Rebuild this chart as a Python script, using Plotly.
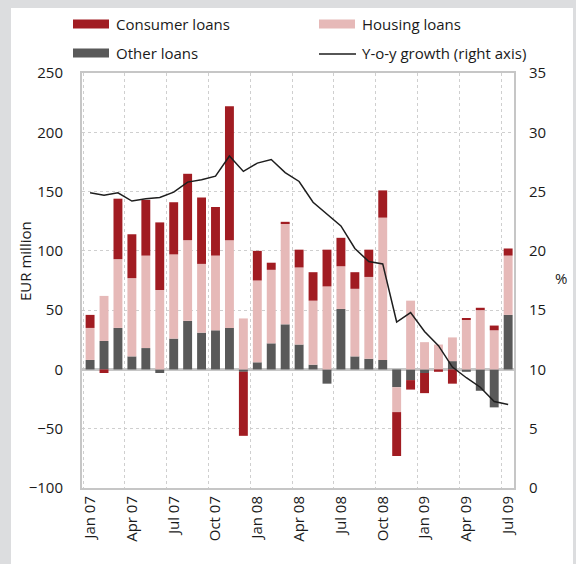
import plotly.graph_objects as go

# Monthly flows of new lending to households, EUR million
months = ["Jan 07", "Feb 07", "Mar 07", "Apr 07", "May 07", "Jun 07",
          "Jul 07", "Aug 07", "Sep 07", "Oct 07", "Nov 07", "Dec 07",
          "Jan 08", "Feb 08", "Mar 08", "Apr 08", "May 08", "Jun 08",
          "Jul 08", "Aug 08", "Sep 08", "Oct 08", "Nov 08", "Dec 08",
          "Jan 09", "Feb 09", "Mar 09", "Apr 09", "May 09", "Jun 09",
          "Jul 09"]

other_loans = [8, 24, 35, 11, 18, -3, 26, 41, 31, 33, 35, -2, 6, 22, 38, 21,
               4, -12, 51, 11, 9, 8, -15, -9, -3, 0, 7, -2, -18, -32, 46]
housing_loans = [27, 38, 58, 66, 78, 67, 71, 68, 58, 63, 74, 43, 69, 62, 85,
                 65, 54, 70, 36, 57, 69, 120, -21, 58, 23, 21, 20, 42, 50, 33, 50]
consumer_loans = [11, -3, 51, 37, 47, 57, 44, 56, 56, 41, 113, -54, 25, 6, 1.5,
                  15, 24, 31, 24, 14, 23, 23, -37, -8, -17, -2, -12, 1, 2, 4, 6]

# Year-on-year growth of the loan stock, %
yoy_growth = [24.9, 24.7, 24.9, 24.2, 24.4, 24.5, 24.95, 25.8, 26.0, 26.3,
              28.0, 26.7, 27.4, 27.7, 26.6, 25.85, 24.1, 23.1, 22.1, 20.2,
              19.1, 18.9, 14.0, 14.8, 13.2, 12.0, 10.2, 9.3, 8.5, 7.3, 7.05]

tick_months = months[::3]

C_CONSUMER = "#a11c22"
C_HOUSING = "#e6b9b8"
C_OTHER = "#595959"
C_LINE = "#1e1e1e"
C_AXIS = "#c6c6c6"
C_GRID = "#cfcfcf"
C_FRAME = "#dcdddf"
FONT = "Open Sans"

W, H = 576, 564
ML, MR, MT, MB = 82, 62, 73, 76
PW = W - ML - MR
PH = H - MT - MB


def px(x):
    return (x - ML) / PW


def py(y):
    return (H - MB - y) / PH


fig = go.Figure()
for name, vals, col in [("Other loans", other_loans, C_OTHER),
                        ("Housing loans", housing_loans, C_HOUSING),
                        ("Consumer loans", consumer_loans, C_CONSUMER)]:
    fig.add_trace(go.Bar(x=months, y=vals, name=name, marker_color=col,
                         marker_line_width=0, width=0.64, showlegend=False))

fig.add_trace(go.Scatter(x=months, y=yoy_growth, name="Y-o-y growth (right axis)",
                         mode="lines", line=dict(color=C_LINE, width=1.5),
                         yaxis="y2", showlegend=False))

tick_font = dict(family=FONT, size=15, color="#1a1a1a")

fig.update_layout(
    width=W, height=H,
    margin=dict(l=ML, r=MR, t=MT, b=MB),
    paper_bgcolor="white", plot_bgcolor="white",
    barmode="relative", bargap=0.36,
    font=tick_font,
    xaxis=dict(type="category", categoryorder="array", categoryarray=months,
               range=[-0.58, 30.42], tickmode="array", tickvals=tick_months,
               ticktext=tick_months, tickangle=-90, tickson="boundaries",
               ticks="", showgrid=True, gridcolor=C_GRID, griddash="dot",
               gridwidth=1, showline=True, linecolor=C_AXIS, linewidth=2,
               mirror=True, tickfont=tick_font),
    yaxis=dict(range=[-100, 250], dtick=50, tick0=0, showgrid=True,
               gridcolor=C_GRID, griddash="dot", gridwidth=1,
               zeroline=True, zerolinecolor=C_AXIS, zerolinewidth=3,
               showline=True, linecolor=C_AXIS, linewidth=2, mirror=True,
               ticks="", ticklabelstandoff=14, tickfont=tick_font),
    yaxis2=dict(range=[0, 35], dtick=5, overlaying="y", side="right",
                showgrid=False, zeroline=False, showline=False, ticks="",
                ticklabelstandoff=14, tickfont=tick_font),
)

# Axis titles
fig.add_annotation(text="EUR million", textangle=-90, x=px(25), y=py(261),
                   xref="paper", yref="paper", xanchor="center",
                   yanchor="middle", showarrow=False,
                   font=dict(family=FONT, size=15, color="#1a1a1a"))
fig.add_annotation(text="%", x=px(561), y=py(278), xref="paper", yref="paper",
                   xanchor="center", yanchor="middle", showarrow=False,
                   font=dict(family=FONT, size=15, color="#1a1a1a"))

# Legend
legend_items = [
    ("Consumer loans", C_CONSUMER, "box", 73, 24),
    ("Housing loans", C_HOUSING, "box", 319, 24),
    ("Other loans", C_OTHER, "box", 73, 53),
    ("Y-o-y growth (right axis)", C_LINE, "line", 319, 53),
]
for label, col, kind, x0, yc in legend_items:
    if kind == "box":
        fig.add_shape(type="rect", xref="paper", yref="paper",
                      x0=px(x0), x1=px(x0 + 36), y0=py(yc - 4.5), y1=py(yc + 4.5),
                      fillcolor=col, line_width=0)
    else:
        fig.add_shape(type="line", xref="paper", yref="paper",
                      x0=px(x0), x1=px(x0 + 37), y0=py(yc + 1), y1=py(yc + 1),
                      line=dict(color=col, width=1.5))
    fig.add_annotation(text=label, x=px(x0 + 41), y=py(yc), xref="paper",
                       yref="paper", xanchor="left", yanchor="middle",
                       showarrow=False,
                       font=dict(family=FONT, size=15, color="#1a1a1a"))

# Grey page border around the white panel
for x0, x1, y0, y1 in [(0, 11, 0, H), (0, W, 0, 8), (573, W, 0, H)]:
    fig.add_shape(type="rect", xref="paper", yref="paper",
                  x0=px(x0), x1=px(x1), y0=py(y1), y1=py(y0),
                  fillcolor=C_FRAME, line_width=0, layer="above")

fig.write_html("out.html")
